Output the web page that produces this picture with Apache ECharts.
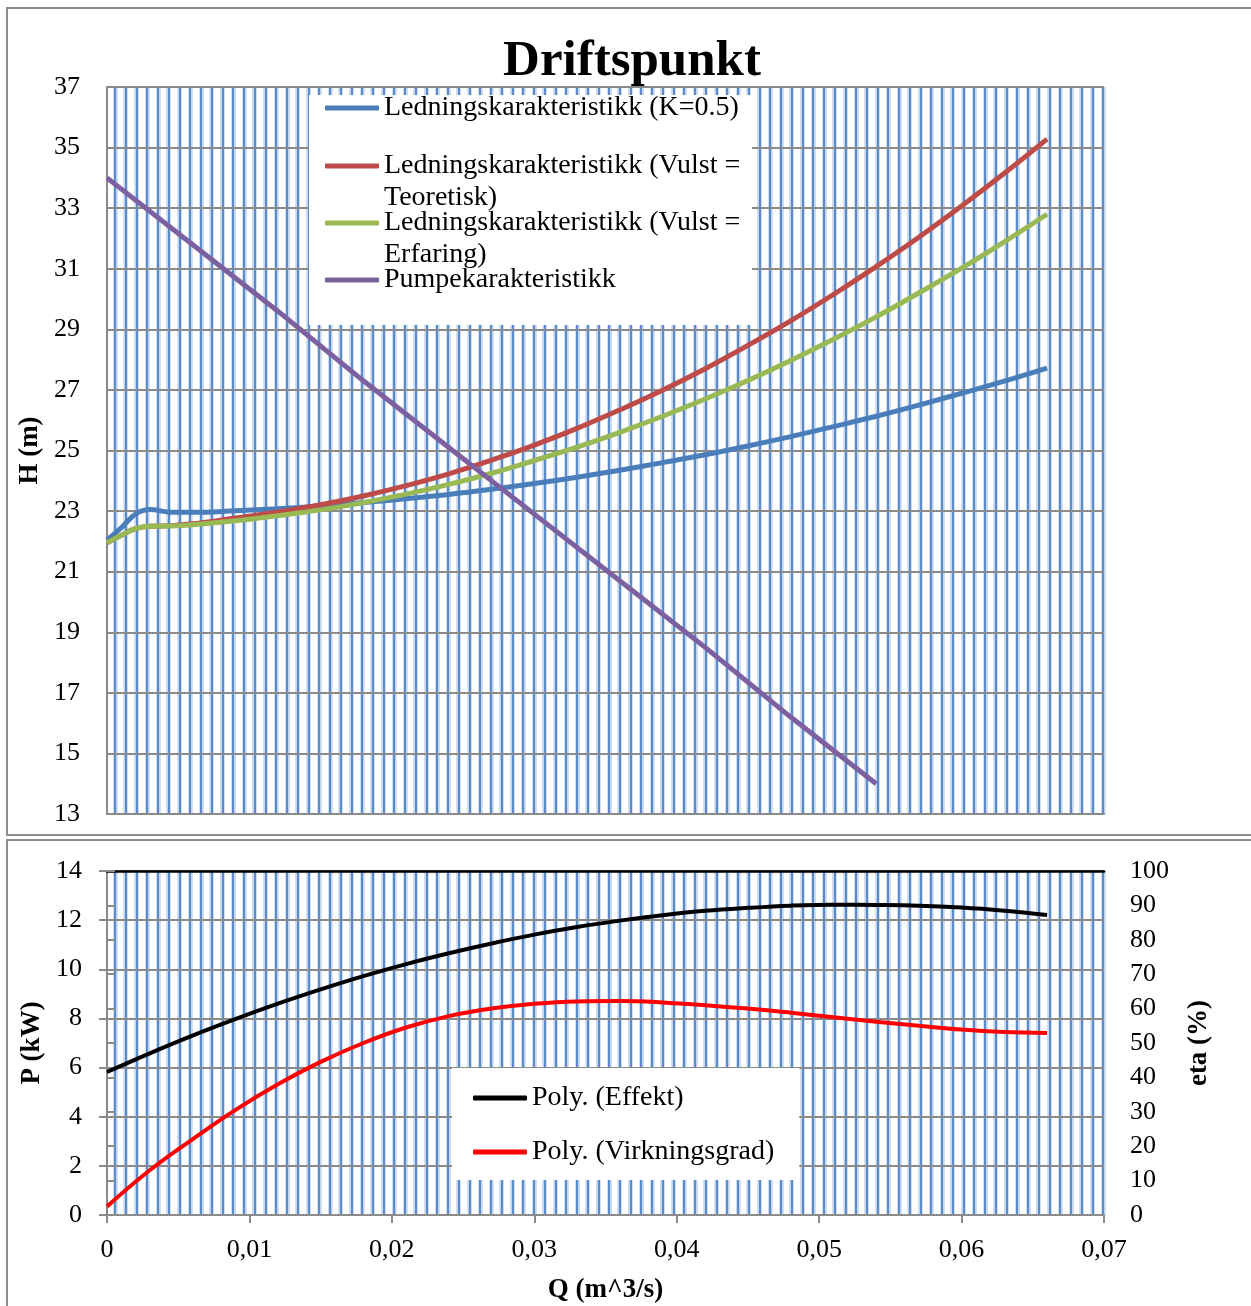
<!DOCTYPE html>
<html>
<head>
<meta charset="utf-8">
<script src="https://cdn.jsdelivr.net/npm/echarts@6/dist/echarts.min.js"></script>
<style>
html,body{margin:0;padding:0;background:#fff}
#c{width:1251px;height:1306px}
</style>
</head>
<body>
<div id="c"></div>
<script>
// Flow rate Q (m^3/s) for the system curves
const qSystem = [0, 0.001, 0.002, 0.003, 0.0045, 0.006, 0.009, 0.012, 0.015, 0.018, 0.021, 0.024, 0.027,
  0.030, 0.033, 0.036, 0.039, 0.042, 0.045, 0.048, 0.051, 0.054, 0.057, 0.060, 0.063, 0.066];
// Head H (m)
const hK05 = [22.05, 22.45, 22.9, 23.05, 22.96, 22.96, 23.01, 23.08, 23.17, 23.28, 23.41, 23.55, 23.72,
  23.91, 24.12, 24.35, 24.60, 24.86, 25.15, 25.46, 25.79, 26.13, 26.50, 26.89, 27.29, 27.72];
const hTeoretisk = [21.95, 22.2, 22.42, 22.5, 22.52, 22.58, 22.77, 22.97, 23.21, 23.50, 23.84, 24.23, 24.68,
  25.18, 25.73, 26.34, 26.99, 27.70, 28.47, 29.28, 30.15, 31.07, 32.04, 33.07, 34.15, 35.28];
const hErfaring = [21.95, 22.2, 22.42, 22.5, 22.51, 22.55, 22.68, 22.85, 23.04, 23.28, 23.56, 23.88, 24.25,
  24.67, 25.11, 25.60, 26.13, 26.70, 27.31, 27.97, 28.67, 29.41, 30.20, 31.02, 31.89, 32.80];

// Pump curve
const qPump = [0, 0.006, 0.012, 0.018, 0.024, 0.030, 0.036, 0.042, 0.048, 0.054];
const hPump = [34.0, 31.8, 29.6, 27.3, 25.1, 22.9, 20.7, 18.5, 16.2, 14.0];

// Power and efficiency trend lines
const qPoly = [0, 0.003, 0.006, 0.009, 0.012, 0.015, 0.018, 0.021, 0.024, 0.027, 0.030, 0.033,
  0.036, 0.039, 0.042, 0.045, 0.048, 0.051, 0.054, 0.057, 0.060, 0.063, 0.066];
const effekt = [5.82, 6.58, 7.30, 7.97, 8.60, 9.18, 9.72, 10.21, 10.65, 11.05, 11.41, 11.72,
  11.98, 12.20, 12.38, 12.50, 12.59, 12.63, 12.62, 12.59, 12.51, 12.38, 12.21];
const virkningsgrad = [2.5, 13.0, 22.0, 30.5, 38.0, 44.5, 50.0, 54.5, 57.8, 60.0, 61.4, 62.1,
  62.2, 61.8, 61.0, 60.0, 58.8, 57.5, 56.2, 55.0, 53.9, 53.2, 52.9];

// Q axis tick labels
const qTickLabels = ['0', '0,01', '0,02', '0,03', '0,04', '0,05', '0,06', '0,07'];

const names = {
  k05: 'Ledningskarakteristikk (K=0.5)',
  teo: 'Ledningskarakteristikk (Vulst =\nTeoretisk)',
  erf: 'Ledningskarakteristikk (Vulst =\nErfaring)',
  pump: 'Pumpekarakteristikk',
  eff: 'Poly. (Effekt)',
  virk: 'Poly. (Virkningsgrad)'
};

const pairs = (xs, ys) => xs.map((x, i) => [x, ys[i]]);

const SERIF = '"Liberation Serif", "DejaVu Serif", serif';
const GRAY = '#8a8a8a';
const tickFont = { fontFamily: SERIF, fontSize: 26, color: '#000' };
const nameFont = { fontFamily: SERIF, fontSize: 27, fontWeight: 'bold', color: '#000' };

// Dense vertical hatch behind the plot areas (two layered axes: halo + core)
function hatchAxes(gridIndex) {
  const base = {
    gridIndex, type: 'value', min: 0, max: 92, interval: 1,
    axisLine: { show: false }, axisTick: { show: false }, axisLabel: { show: false }, z: 0
  };
  return [
    Object.assign({}, base, { splitLine: { show: true, lineStyle: { color: '#c4d6ee', width: 4.5 } } }),
    Object.assign({}, base, { splitLine: { show: true, lineStyle: { color: '#5a8bca', width: 2 } } })
  ];
}

// Two-line entries: a leading blank line keeps the first text line level with the key
const legendBase = {
  orient: 'vertical', icon: 'roundRect', itemWidth: 54, itemHeight: 5, padding: 0,
  left: 325, z: 12,
  textStyle: { fontFamily: SERIF, fontSize: 28, color: '#000', lineHeight: 32 }
};

const chart = echarts.init(document.getElementById('c'), null, { renderer: 'canvas' });
chart.setOption({
  animation: false,
  backgroundColor: '#fff',
  title: {
    text: 'Driftspunkt', left: 632, top: 36, textAlign: 'center', padding: 0,
    textStyle: { fontFamily: SERIF, fontSize: 51, fontWeight: 'bold', color: '#000' }
  },
  graphic: [
    { type: 'rect', z: 1, shape: { x: 7, y: 8, width: 1260, height: 827 },
      style: { fill: 'none', stroke: '#8c8c8c', lineWidth: 2 } },
    { type: 'rect', z: 1, shape: { x: 7, y: 840, width: 1260, height: 480 },
      style: { fill: 'none', stroke: '#8c8c8c', lineWidth: 2 } },
    { type: 'rect', z: 10, shape: { x: 309, y: 95, width: 443, height: 230 },
      style: { fill: '#fff' } }
  ],
  legend: [
    Object.assign({}, legendBase, { top: 92, data: [names.k05] }),
    Object.assign({}, legendBase, { top: 118, data: [names.teo], formatter: n => '\n' + n }),
    Object.assign({}, legendBase, { top: 175, data: [names.erf], formatter: n => '\n' + n }),
    Object.assign({}, legendBase, { top: 264, data: [names.pump] }),
    Object.assign({}, legendBase, {
      left: 452, top: 1068, itemGap: 24, padding: [15, 25, 13, 21],
      backgroundColor: '#fff', data: [names.eff, names.virk],
      textStyle: { fontFamily: SERIF, fontSize: 28, color: '#000', lineHeight: 30 }
    })
  ],
  grid: [
    { left: 107, top: 87, width: 997, height: 727 },
    { left: 115, top: 87, width: 988, height: 727 },
    { left: 107, top: 871, width: 997, height: 344 },
    { left: 115, top: 871, width: 988, height: 344 }
  ],
  xAxis: [
    // 0: Q axis of the head plot
    { gridIndex: 0, type: 'value', min: 0, max: 0.07, interval: 0.01, z: 1,
      axisLine: { show: true, onZero: false, lineStyle: { color: GRAY, width: 2 } },
      axisTick: { show: false }, axisLabel: { show: false }, splitLine: { show: false } },
    // 1, 2: hatch of the head plot
    ...hatchAxes(1),
    // 3: Q axis of the power plot
    { gridIndex: 2, type: 'value', min: 0, max: 0.07, interval: 0.01, z: 1,
      name: 'Q (m^3/s)', nameLocation: 'middle', nameGap: 62, nameTextStyle: nameFont,
      axisLine: { show: true, onZero: false, lineStyle: { color: GRAY, width: 2 } },
      axisTick: { show: true, inside: false, length: 8, lineStyle: { color: GRAY, width: 2 } },
      axisLabel: { ...tickFont, margin: 22,
        formatter: v => qTickLabels[Math.round(v / 0.01)] },
      splitLine: { show: false } },
    // 4: top border of the power plot
    { gridIndex: 2, type: 'value', position: 'top', min: 0, max: 0.07, interval: 0.01, z: 1,
      axisLine: { show: true, onZero: false, lineStyle: { color: '#000', width: 2.5 } },
      axisTick: { show: false }, axisLabel: { show: false }, splitLine: { show: false } },
    // 5, 6: hatch of the power plot
    ...hatchAxes(3)
  ],
  yAxis: [
    { gridIndex: 0, type: 'value', min: 13, max: 37, interval: 2, z: 1,
      name: 'H (m)', nameLocation: 'middle', nameGap: 62, nameTextStyle: nameFont,
      axisLine: { show: true, lineStyle: { color: GRAY, width: 2 } },
      axisTick: { show: false },
      axisLabel: { ...tickFont, margin: 27 },
      splitLine: { show: true, lineStyle: { color: GRAY, width: 2 } } },
    { gridIndex: 1, type: 'value', min: 0, max: 1, show: false },
    { gridIndex: 2, type: 'value', min: 0, max: 14, interval: 2, z: 1,
      name: 'P (kW)', nameLocation: 'middle', nameGap: 60, nameTextStyle: nameFont,
      axisLine: { show: true, lineStyle: { color: GRAY, width: 2 } },
      axisTick: { show: true, length: 8, lineStyle: { color: GRAY, width: 2 } },
      axisLabel: { ...tickFont, margin: 25 },
      splitLine: { show: true, lineStyle: { color: GRAY, width: 2 } } },
    { gridIndex: 2, type: 'value', position: 'right', min: 0, max: 100, interval: 10, z: 1,
      name: 'eta (%)', nameLocation: 'middle', nameGap: 82, nameTextStyle: nameFont,
      axisLine: { show: true, lineStyle: { color: GRAY, width: 2 } },
      axisTick: { show: true, length: 8, lineStyle: { color: GRAY, width: 2 } },
      axisLabel: { ...tickFont, margin: 26 },
      splitLine: { show: false } },
    { gridIndex: 3, type: 'value', min: 0, max: 1, show: false }
  ],
  series: [
    { name: names.k05, type: 'line', xAxisIndex: 0, yAxisIndex: 0, data: pairs(qSystem, hK05),
      smooth: 0.4, showSymbol: false, z: 3, lineStyle: { color: '#4a7ebb', width: 5 }, itemStyle: { color: '#4a7ebb' } },
    { name: names.teo, type: 'line', xAxisIndex: 0, yAxisIndex: 0, data: pairs(qSystem, hTeoretisk),
      smooth: 0.4, showSymbol: false, z: 3, lineStyle: { color: '#be4b48', width: 5 }, itemStyle: { color: '#be4b48' } },
    { name: names.erf, type: 'line', xAxisIndex: 0, yAxisIndex: 0, data: pairs(qSystem, hErfaring),
      smooth: 0.4, showSymbol: false, z: 3, lineStyle: { color: '#98b954', width: 5 }, itemStyle: { color: '#98b954' } },
    { name: names.pump, type: 'line', xAxisIndex: 0, yAxisIndex: 0, data: pairs(qPump, hPump),
      showSymbol: false, z: 3, lineStyle: { color: '#7d60a0', width: 5 }, itemStyle: { color: '#7d60a0' } },
    { name: names.eff, type: 'line', xAxisIndex: 3, yAxisIndex: 2, data: pairs(qPoly, effekt),
      smooth: 0.4, showSymbol: false, z: 3, lineStyle: { color: '#000', width: 4 }, itemStyle: { color: '#000' } },
    { name: names.virk, type: 'line', xAxisIndex: 3, yAxisIndex: 3, data: pairs(qPoly, virkningsgrad),
      smooth: 0.4, showSymbol: false, z: 3, lineStyle: { color: '#ff0000', width: 4 }, itemStyle: { color: '#ff0000' } }
  ]
});
</script>
</body>
</html>
